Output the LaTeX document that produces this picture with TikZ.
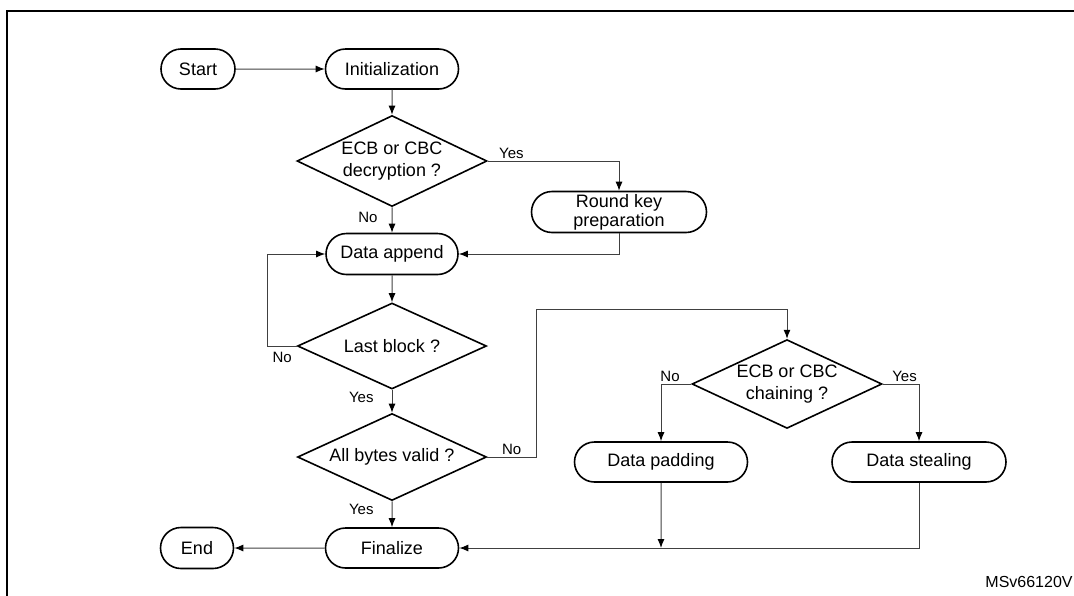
\documentclass[tikz,border=0pt]{standalone}
\usepackage{fontspec}
\setmainfont{Liberation Sans}
\usetikzlibrary{shapes.geometric}
\usetikzlibrary{shapes.misc}
\usetikzlibrary{arrows.meta}
\tikzset{term/.style={rounded rectangle,draw,line width=0.8pt,inner sep=1pt,
		font=\fontsize{9}{11}\selectfont,align=center},
	test/.style={diamond,draw,line width=0.8pt,inner sep=0pt,aspect=2,
		font=\fontsize{9}{11}\selectfont,align=center},
	lbl/.style={font=\fontsize{7.5}{9}\selectfont,inner sep=1pt},
	line/.style={draw=black!75,line width=0.5pt,->}}

\begin{document}
\begin{tikzpicture}[x=0.5pt,y=-0.5pt]
		\useasboundingbox (0,0) rectangle (1074,595);
		\draw[line width=1pt] (7,640) -- (7,11) -- (1120,11);
		\begin{scope}[every node/.style={term,minimum height=20pt}]
			\node[minimum width=39pt] (start) at (198,69) {Start};
			\node[minimum width=68.5pt] (init) at (392,69) {Initialization};
			\node[minimum width=89.5pt,minimum height=20.5pt,font=\fontsize{9}{7.5}\selectfont] (rkey) at (619,212) {Round key\\preparation};
			\node[minimum width=68pt,minimum height=20.5pt] (app) at (392,254) {Data append};
			\node[minimum width=68.5pt] (fin) at (392,548) {Finalize};
			\node[minimum width=38.5pt,minimum height=20.5pt] (end) at (197,548) {End};
			\node[minimum width=88.5pt] (pad) at (661,462) {Data padding};
			\node[minimum width=89pt] (steal) at (919,462) {Data stealing};
		\end{scope}
		\begin{scope}[every node/.style={test}]
			\node[minimum width=95pt,minimum height=45.5pt] (dec) at (392,161) {ECB or CBC\\decryption ?};
			\node[minimum width=94.5pt,minimum height=43pt] (lb) at (392,346) {Last block ?};
			\node[minimum width=94.5pt,minimum height=43.5pt] (abv) at (392,457) {All bytes valid ?};
			\node[minimum width=95pt,minimum height=43pt] (chain) at (787,384) {ECB or CBC\\chaining ?};
		\end{scope}
		\node[anchor=east,inner sep=0pt,font=\fontsize{8}{10}\selectfont] (tag) at (1073,582) {MSv66120V};
		\coordinate (up) at (536,309);
		\begin{scope}[>={Latex[black,length=4.5pt,width=3.5pt]}]
			\draw[line] (start) -- (init);
			\draw[line] (init) -- (dec);
			\draw[line] (dec.east) -| node[lbl,pos=0.09,above] {Yes} (rkey);
			\draw[line] (dec) -- node[lbl,pos=0.4,left=6pt] {No} (app);
			\draw[line] (rkey) |- (app);
			\draw[line] (app) -- (lb);
			\draw[line] (lb.west) -- node[lbl,below=2pt] {No} ++(-29,0) |- (app);
			\draw[line] (lb) -- node[lbl,pos=0.32,left=8pt] {Yes} (abv);
			\draw[line] (abv) -- node[lbl,pos=0.33,left=8pt] {Yes} (fin);
			\draw[line] (abv.east) -- node[lbl,above] {No} (abv.east -| up) -- (up) -| (chain);
			\draw[line] (chain.west) -| node[lbl,pos=0.35,above] {No} (pad);
			\draw[line] (chain.east) -| node[lbl,pos=0.3,above] {Yes} (steal);
			\draw[line] (pad) -- (pad |- fin);
			\draw[line] (steal) |- (fin);
			\draw[line] (fin) -- (end);
		\end{scope}
	\end{tikzpicture}
\end{document}
